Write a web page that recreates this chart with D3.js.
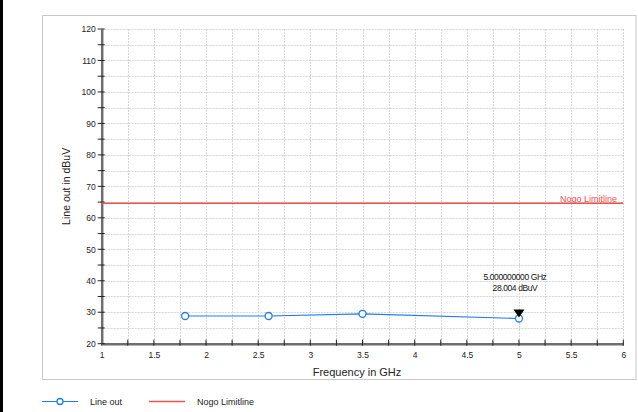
<!DOCTYPE html>
<html>
<head>
<meta charset="utf-8">
<script src="https://cdn.jsdelivr.net/npm/d3@7/dist/d3.min.js"></script>
<style>
  html, body { margin: 0; padding: 0; background: #fff; }
  svg { display: block; font-family: "Liberation Sans", Arial, sans-serif; }
</style>
</head>
<body>
<svg id="chart" width="638" height="412"></svg>
<script>
// Measured trace: frequency (GHz) and level (dBuV)
const freqGHz = [1.8, 2.6, 3.5, 5.0];
const levelDbuv = [28.8, 28.8, 29.5, 28.004];
// Limit line level
const limitDbuv = 64.6;
// Marker
const markerFreq = 5.0;
const markerLevel = 28.004;
const markerLines = ["5.000000000 GHz", "28.004 dBuV"];
// Axis ticks
const xTicks = [1, 1.5, 2, 2.5, 3, 3.5, 4, 4.5, 5, 5.5, 6];
const yTicks = [20, 30, 40, 50, 60, 70, 80, 90, 100, 110, 120];
const legendNames = ["Line out", "Nogo Limitline"];

const W = 638, H = 412;
const plot = { left: 101.7, right: 623.3, top: 29, bottom: 343.7 };
const blue = "#1c7ef0", red = "#f24f4f";
const FONT = "Liberation Sans, Arial, sans-serif";

const svg = d3.select("#chart");

// left dark strip and outer frame
svg.append("rect").attr("x", 0).attr("y", 0).attr("width", 3).attr("height", H).attr("fill", "#000");
svg.append("rect").attr("x", 42.5).attr("y", 15.5).attr("width", 593.5).attr("height", 364)
  .attr("fill", "#fff").attr("stroke", "#c8c8c8").attr("stroke-width", 1);

const x = d3.scaleLinear().domain([1, 6]).range([plot.left, plot.right]);
const y = d3.scaleLinear().domain([20, 120]).range([plot.bottom, plot.top]);

// grid every 0.25 GHz and 5 dB
const gx = d3.range(1.25, 6.001, 0.25);
const gy = d3.range(25, 120.001, 5);
const grid = svg.append("g").attr("stroke", "#d6d6d6").attr("stroke-width", 1).attr("stroke-dasharray", "2,1");
grid.selectAll("line.v").data(gx).join("line").attr("class", "v")
  .attr("x1", d => Math.round(x(d)) + 0.5).attr("x2", d => Math.round(x(d)) + 0.5)
  .attr("y1", plot.top).attr("y2", plot.bottom);
grid.selectAll("line.h").data(gy).join("line").attr("class", "h")
  .attr("y1", d => Math.round(y(d)) + 0.5).attr("y2", d => Math.round(y(d)) + 0.5)
  .attr("x1", plot.left).attr("x2", plot.right);

// axes
const xAxis = d3.axisBottom(x).tickValues(xTicks).tickSize(0).tickPadding(8)
  .tickFormat(d => d3.format("~g")(d));
const gxA = svg.append("g").attr("transform", `translate(0,${plot.bottom})`).call(xAxis);
gxA.select(".domain").attr("stroke", "#6e6e6e").attr("stroke-width", 2.5);
gxA.selectAll("text").attr("font-size", 8.5).attr("fill", "#222").attr("font-family", FONT);
// x tick marks (major + minor)
svg.append("g").selectAll("line").data(d3.range(1, 6.001, 0.25)).join("line")
  .attr("x1", d => x(d)).attr("x2", d => x(d))
  .attr("y1", plot.bottom - 4).attr("y2", plot.bottom + 2)
  .attr("stroke", "#222").attr("stroke-width", 1);

const yAxis = d3.axisLeft(y).tickValues(yTicks).tickSize(0).tickPadding(6);
const gyA = svg.append("g").attr("transform", `translate(${plot.left},0)`).call(yAxis);
gyA.select(".domain").attr("stroke", "#6e6e6e").attr("stroke-width", 2.5);
gyA.selectAll("text").attr("font-size", 8.5).attr("fill", "#222").attr("font-family", FONT);
svg.append("g").selectAll("line").data(d3.range(20, 120.001, 5)).join("line")
  .attr("y1", d => y(d)).attr("y2", d => y(d))
  .attr("x1", plot.left - 4).attr("x2", plot.left + 3)
  .attr("stroke", "#222").attr("stroke-width", 1);

// axis titles
svg.append("text").attr("x", 357).attr("y", 376).attr("text-anchor", "middle")
  .attr("font-size", 11).attr("fill", "#222").text("Frequency in GHz");
svg.append("text").attr("transform", `translate(70,${(plot.top + plot.bottom) / 2}) rotate(-90)`)
  .attr("text-anchor", "middle").attr("font-size", 10.5).attr("fill", "#222").text("Line out in dBuV");

// limit line
svg.append("line").attr("x1", plot.left).attr("x2", plot.right)
  .attr("y1", y(limitDbuv)).attr("y2", y(limitDbuv))
  .attr("stroke", red).attr("stroke-width", 1.5);
svg.append("text").attr("x", 617).attr("y", y(limitDbuv) - 1.5).attr("text-anchor", "end")
  .attr("font-size", 9).attr("fill", red).text(legendNames[1]);

// trace
const pts = freqGHz.map((f, i) => [f, levelDbuv[i]]);
svg.append("path").datum(pts)
  .attr("d", d3.line().x(d => x(d[0])).y(d => y(d[1])))
  .attr("fill", "none").attr("stroke", blue).attr("stroke-width", 1.2);
svg.append("g").selectAll("circle").data(pts).join("circle")
  .attr("cx", d => x(d[0])).attr("cy", d => y(d[1])).attr("r", 3.5)
  .attr("fill", "#fff").attr("stroke", blue).attr("stroke-width", 1.3);

// marker triangle and readout
const mx = x(markerFreq), my = y(markerLevel);
svg.append("path")
  .attr("d", `M${mx - 5.5},${my - 9} L${mx + 5.5},${my - 9} L${mx},${my - 1} Z`)
  .attr("fill", "#000");
svg.append("g").selectAll("text").data(markerLines).join("text")
  .attr("x", mx - 4).attr("y", (d, i) => 280 + i * 10.5)
  .attr("text-anchor", "middle").attr("font-size", 8.5).attr("fill", "#111")
  .attr("letter-spacing", "-0.4").text(d => d);

// legend
const ly = 401.5;
svg.append("line").attr("x1", 42).attr("x2", 78).attr("y1", ly).attr("y2", ly)
  .attr("stroke", blue).attr("stroke-width", 1.2);
svg.append("circle").attr("cx", 60).attr("cy", ly).attr("r", 3)
  .attr("fill", "#fff").attr("stroke", blue).attr("stroke-width", 1.3);
svg.append("text").attr("x", 90).attr("y", ly + 3).attr("font-size", 9).attr("fill", "#222").text(legendNames[0]);
svg.append("line").attr("x1", 149).attr("x2", 185).attr("y1", ly).attr("y2", ly)
  .attr("stroke", red).attr("stroke-width", 1.5);
svg.append("text").attr("x", 197).attr("y", ly + 3).attr("font-size", 9).attr("fill", "#222").text(legendNames[1]);
</script>
</body>
</html>
